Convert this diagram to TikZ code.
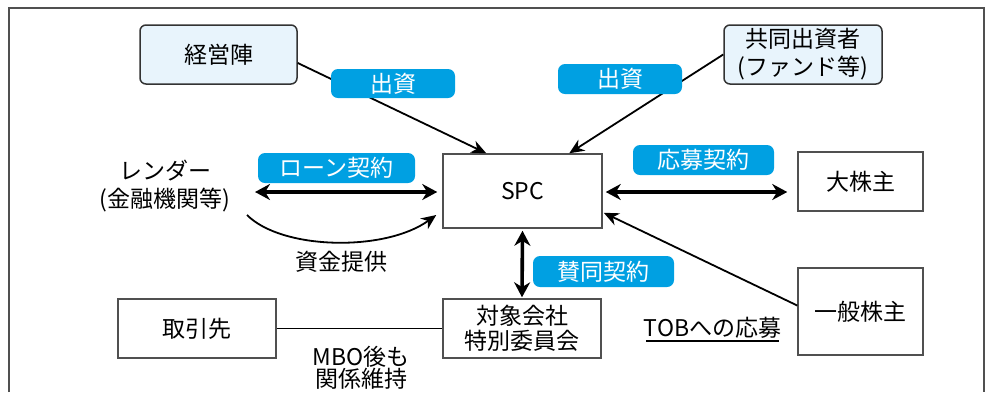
\documentclass[tikz,border=0pt]{standalone}
\usepackage{fontspec}
\setmainfont{Noto Sans CJK JP}
\usetikzlibrary{arrows.meta,calc}
\definecolor{lblue}{HTML}{00A0E2}
\definecolor{pale}{HTML}{E8F4FC}
\definecolor{edge}{HTML}{505050}
\definecolor{redge}{HTML}{333333}
\begin{document}
\begin{tikzpicture}[x=1pt,y=-1pt,
  every node/.style={font=\fontsize{23}{28}\selectfont},
  box/.style={draw=edge, line width=1.5pt, minimum width=158pt, minimum height=59pt, align=center, inner sep=0pt},
  rbox/.style={box, draw=redge, rounded corners=6pt, fill=pale},
  tag/.style={fill=lblue, text=white, rounded corners=7pt, minimum height=30pt, inner sep=0pt},
  thinarrow/.style={line width=1.8pt, -{Stealth[length=15pt,width=13pt]}},
  thickarrow/.style={line width=3.6pt, {Stealth[length=15pt,width=16pt]}-{Stealth[length=15pt,width=16pt]}},
  plainline/.style={line width=1.7pt}
]
\useasboundingbox (0,0) rectangle (991,392);
\fill[white] (0,0) rectangle (991,392);
\draw[edge, line width=1.5pt] (9,392) -- (9,8) -- (984,8) -- (984,392);

% nodes
\node[rbox, minimum width=157pt] (keiei) at (218.5,54.5) {経営陣};
\node[rbox] (kyodo) at (803,54.5) {共同出資者\\(ファンド等)};
\node[box, minimum width=159pt, minimum height=74pt] (spc) at (522.5,191) {SPC};
\node[box, minimum width=125pt] (daikabu) at (860.5,181.5) {大株主};
\node[box, minimum width=125pt, minimum height=87pt] (ippan) at (860.5,311.5) {一般株主};
\node[box, font=\fontsize{23}{25}\selectfont] (taisho) at (522,328.5) {対象会社\\特別委員会};
\node[box] (torihiki) at (197,328.5) {取引先};

\node[align=center, inner sep=0pt] (lender) at (165,186) {レンダー\\(金融機関等)};
\node[inner sep=0pt] (shikin) at (341,262) {資金提供};
\node[align=center, inner sep=0pt, font=\fontsize{23}{20}\selectfont] (mbo) at (361,368) {MBO後も\\関係維持};
\node[inner sep=0pt] (tob) at (712.5,328) {TOBへの応募};
\draw[line width=1.3pt] (646,341) coordinate (tobl) -- (779,341) coordinate (tobr);

\coordinate (lendtip) at (255,192);
\coordinate (curvestart) at (247,215);

% connectors
\draw[thinarrow] ($(keiei.east)+(0,8.5)$) -- ($(spc.north west)+(44,0)$);
\draw[thinarrow] (kyodo.west) -- ($(spc.north west)+(127,0)$);
\draw[thickarrow] (lendtip) -- ($(spc.west)+(-5,1)$);
\draw[thinarrow] (curvestart) .. controls (282,250) and (385,252) .. ($(spc.west)+(-6,24)$);
\draw[thickarrow] ($(spc.east)+(3,1)$) -- ($(daikabu.west |- spc.east)+(-10,1)$);
\draw[thickarrow] ($(spc.south)+(0,2)$) -- ($(taisho.north)+(0,-1)$);
\draw[thinarrow] ($(ippan.west)+(0,-6)$) -- ($(spc.south east)+(1,-16)$);
\draw[plainline] (torihiki.east) -- (taisho.west);

% tags
\node[tag, minimum width=124pt, minimum height=29pt] (tag1) at (393,83.5) {出資};
\node[tag, minimum width=124pt] (tag2) at (620,79) {出資};
\node[tag, minimum width=157pt] (tag3) at (336.5,168) {ローン契約};
\node[tag, minimum width=141pt] (tag4) at (703.5,160) {応募契約};
\node[tag, minimum width=141pt, minimum height=31pt] (tag5) at (603.5,271.5) {賛同契約};
\end{tikzpicture}
\end{document}
